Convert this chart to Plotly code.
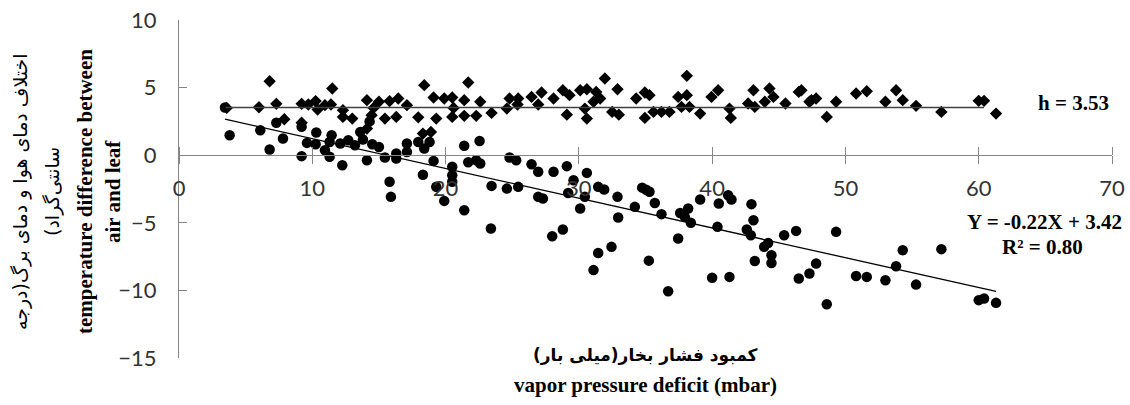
import plotly.graph_objects as go

# Series 1: diamonds (leaf temperature difference, roughly constant, h = 3.53)
vpd_diamond = [3.58, 6.8, 6.0, 7.3, 7.9, 9.2, 9.7, 10.25, 10.4, 10.95, 11.5, 11.4, 12.3, 12.3, 13.0,
               14.1, 14.6, 14.45, 15.0, 15.45, 15.8, 16.45, 16.3, 17.1, 17.95, 18.4, 19.1, 19.3, 19.9,
               20.5, 20.6, 20.5, 21.4, 21.7, 21.4, 22.6, 22.3, 23.45, 9.2, 14.1, 18.3, 18.9,
               24.6, 24.8, 25.4, 25.45, 26.45, 26.95, 27.2, 28.1, 28.8, 29.1, 29.3, 30.1, 30.6, 30.45,
               30.6, 31.3, 31.1, 31.95, 31.6, 32.5, 32.9, 33.0, 34.3, 34.95, 35.3, 34.95, 35.6, 36.2,
               36.8, 37.45, 37.7, 38.1, 38.1, 38.3, 39.1, 39.95, 40.45, 41.3, 41.4, 42.7, 43.1, 43.2,
               43.95, 44.3, 44.6, 45.5, 46.7, 47.45, 46.5, 47.3, 47.8, 48.6, 49.3, 50.8, 51.6, 53.0,
               53.8, 54.3, 55.3, 57.2, 60.0, 60.4, 61.3]
dt_diamond = [3.5, 5.47, 3.55, 3.8, 2.66, 3.8, 3.75, 4.0, 3.38, 3.7, 4.93, 3.75, 3.33, 2.83, 2.71,
              4.07, 3.5, 2.96, 3.95, 2.71, 4.0, 4.19, 2.83, 3.7, 2.8, 5.18, 4.27, 2.71, 4.19,
              4.27, 3.5, 2.83, 4.07, 5.38, 2.91, 3.95, 2.91, 3.13, 2.4, 1.97, 1.6, 1.72,
              3.45, 4.19, 3.75, 4.19, 4.31, 3.75, 4.64, 4.19, 4.8, 3.0, 4.44, 4.8, 4.88, 3.45,
              2.71, 4.68, 3.95, 5.67, 4.19, 3.2, 4.88, 3.0, 4.19, 4.64, 4.44, 2.76, 3.2, 3.2,
              3.2, 4.31, 3.57, 5.87, 4.44, 3.57, 3.08, 4.31, 4.8, 3.45, 2.76, 3.82, 4.8, 3.57,
              3.95, 4.93, 4.31, 3.82, 4.8, 4.07, 4.68, 3.95, 4.19, 2.83, 3.95, 4.56, 4.73, 3.95,
              4.8, 4.07, 3.65, 3.2, 4.02, 4.02, 3.08]

# Series 2: circles (decreasing with vapor pressure deficit)
vpd_circle = [3.45, 3.8, 6.1, 6.8, 7.3, 7.8, 9.2, 9.2, 9.6, 10.3, 10.25, 10.95, 11.45, 11.3, 11.3,
              12.25, 12.1, 12.7, 13.2, 13.6, 13.8, 14.1, 14.5, 15.0, 15.45, 16.3, 16.3, 17.1, 17.1,
              17.95, 18.4, 18.8, 19.1, 18.3, 20.5, 21.4, 21.7, 15.8, 15.9, 14.3,
              19.3, 19.9, 20.5, 20.5, 21.4, 22.3, 22.6, 22.55,
              23.45, 23.4, 24.6, 24.8, 25.3, 25.45, 26.45, 26.95, 26.95, 27.3, 28.1, 28.0, 28.8,
              29.1, 29.2, 29.6, 30.1, 30.45, 30.6, 31.45, 31.9, 31.45, 32.45, 31.1, 32.9, 32.95,
              34.2, 34.75, 35.05, 35.3, 35.25, 35.7, 36.2, 36.7, 37.45, 37.6, 37.95, 38.2, 38.4,
              39.1, 40.0, 40.4, 40.5, 41.2, 41.45, 41.3, 42.6, 42.9, 42.95, 43.1, 43.2, 43.9,
              44.2, 44.45, 44.45, 45.4, 46.3, 46.5, 49.3, 47.8, 47.3, 48.6, 50.8, 51.6, 53.0,
              53.8, 54.3, 55.3, 57.2, 60.0, 60.4, 61.3]
dt_circle = [3.53, 1.48, 1.85, 0.42, 2.4, 1.23, 2.1, -0.07, 0.91, 1.68, 0.81, 0.37, 1.48, 0.98, -0.12,
             -0.74, 0.86, 1.1, 0.74, 1.72, 1.16, -0.37, 0.81, 0.61, -0.17, -0.25, 0.12, 0.86, 0.24,
             0.98, 0.49, 0.98, -0.42, -1.44, -0.86, 0.7, -0.52, -1.97, -3.08, 2.5,
             -2.34, -3.38, -1.48, -1.97, -4.07, -0.37, -0.62, 1.05,
             -2.27, -5.42, -2.47, -0.17, -0.37, -2.34, -0.67, -1.23, -3.08, -3.2, -1.23, -5.99, -5.5,
             -0.81, -2.79, -1.85, -3.94, -3.08, -1.31, -2.34, -2.54, -7.23, -6.78, -8.5, -3.08, -4.61,
             -3.82, -2.4, -2.55, -2.7, -7.8, -3.53, -4.36, -10.06, -6.16, -4.27, -4.56, -3.94, -5.0,
             -3.28, -9.07, -5.3, -3.57, -2.96, -3.28, -9.0, -5.5, -5.92, -3.62, -4.81, -7.82, -6.78,
             -6.49, -7.4, -7.97, -5.92, -5.6, -9.12, -5.67, -8.01, -8.75, -11.02, -8.93, -9.0, -9.25,
             -8.21, -7.03, -9.57, -6.95, -10.72, -10.6, -10.92]

# Fitted lines shown on the chart
h_mean = 3.53
h_span = [3.5, 60.4]
slope, intercept = -0.22, 3.42
fit_span = [3.45, 61.3]

x_ticks = [0, 10, 20, 30, 40, 50, 60, 70]
y_ticks = [-15, -10, -5, 0, 5, 10]

fig = go.Figure()
fig.add_trace(go.Scatter(x=vpd_diamond, y=dt_diamond, mode="markers",
                         marker=dict(symbol="diamond", size=9.5, color="black"), showlegend=False))
fig.add_trace(go.Scatter(x=vpd_circle, y=dt_circle, mode="markers",
                         marker=dict(symbol="circle", size=10.5, color="black"), showlegend=False))
fig.add_trace(go.Scatter(x=h_span, y=[h_mean, h_mean], mode="lines",
                         line=dict(color="#404040", width=1.5), showlegend=False))
fig.add_trace(go.Scatter(x=fit_span, y=[slope * v + intercept for v in fit_span], mode="lines",
                         line=dict(color="black", width=1.3), showlegend=False))

axis_grey = "#868686"
tick_font = dict(family="Lato, Open Sans, sans-serif", size=22, color="#333333")

fig.update_layout(
    width=1130, height=405,
    margin=dict(l=179, r=18, t=20, b=47, autoexpand=False),
    paper_bgcolor="white", plot_bgcolor="white",
    xaxis=dict(range=[0, 70], tickvals=x_ticks, showgrid=False, zeroline=False, automargin=False,
               anchor="free", position=0.6, showline=True, linecolor=axis_grey, linewidth=1.3,
               ticks="outside", ticklen=8, tickcolor=axis_grey, tickwidth=1.3,
               tickfont=tick_font, ticklabelstandoff=5),
    xaxis2=dict(range=[0, 70], tickvals=x_ticks, overlaying="x", matches="x", automargin=False,
                anchor="free", position=0.6, side="top", showgrid=False, zeroline=False,
                showline=False, ticks="outside", ticklen=8, tickcolor=axis_grey, tickwidth=1.3,
                showticklabels=False),
    yaxis=dict(range=[-15, 10], tickvals=y_ticks, showgrid=False, zeroline=False, automargin=False,
               showline=True, linecolor=axis_grey, linewidth=1.3,
               ticks="inside", ticklen=8, tickcolor=axis_grey, tickwidth=1.3,
               tickfont=tick_font, ticklabelstandoff=17),
)
# helper trace so the top-side tick set of xaxis2 is drawn
fig.add_trace(go.Scatter(x=[None], y=[None], xaxis="x2", showlegend=False, hoverinfo="skip"))

bold_serif = dict(family="Liberation Serif, Times New Roman, serif", size=21, color="black")
persian_y = dict(family="DejaVu Sans, sans-serif", size=19, color="black")
persian_x = dict(family="DejaVu Sans, sans-serif", size=17, color="black")
RLM = "\u200f"

annos = [
    dict(text="<b>h = 3.53</b>", x=67.1, y=3.85, xref="x", yref="y", font=bold_serif),
    dict(text="<b>Y = -0.22X + 3.42</b>", x=64.97, y=-4.96, xref="x", yref="y", font=bold_serif),
    dict(text="<b>R² = 0.80</b>", x=64.8, y=-6.8, xref="x", yref="y", font=bold_serif),
    dict(text="<b>" + RLM + "کمبود فشار بخار(میلی بار)" + RLM + "</b>", x=0.5, y=0,
         xref="paper", yref="paper", yshift=3, font=persian_x),
    dict(text="<b>vapor pressure deficit (mbar)</b>", x=0.5, y=0, xref="paper", yref="paper",
         yshift=-27, font=bold_serif),
    dict(text=RLM + "اختلاف دمای هوا و دمای برگ(درجه" + RLM, x=0, y=0.5, xref="paper", yref="paper",
         xshift=20 - 179, yshift=-3, textangle=-90, font=persian_y),
    dict(text=RLM + "سانتی‌گراد)" + RLM, x=0, y=0.5, xref="paper", yref="paper",
         xshift=52 - 179, yshift=-3, textangle=-90, font=persian_y),
    dict(text="<b>temperature difference between</b>", x=0, y=0.5, xref="paper", yref="paper",
         xshift=85 - 179, yshift=-3, textangle=-90, font=bold_serif),
    dict(text="<b>air and leaf</b>", x=0, y=0.5, xref="paper", yref="paper",
         xshift=113 - 179, yshift=-3, textangle=-90, font=bold_serif),
]
for a in annos:
    fig.add_annotation(showarrow=False, xanchor="center", yanchor="middle", **a)

# remove the browser's default 8px body margin so the figure sits at the window origin
fig.write_html("out.html", config={"displayModeBar": False},
               post_script="document.body.style.margin='0px';")
